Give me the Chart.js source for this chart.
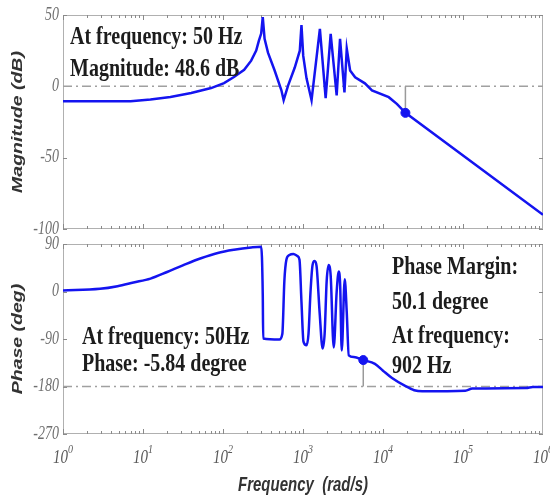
<!DOCTYPE html>
<html>
<head>
<meta charset="utf-8">
<title>Bode diagram</title>
<script src="https://cdn.jsdelivr.net/npm/chart.js@4.4.1/dist/chart.umd.min.js"></script>
<style>
  html, body { margin: 0; padding: 0; background: #fff; }
  #wrap { position: relative; width: 550px; height: 497px; }
  #wrap canvas { position: absolute; left: 0; top: 0; }
</style>
</head>
<body>
<div id="wrap">
  <canvas id="magChart" width="550" height="497"></canvas>
  <canvas id="phaseChart" width="550" height="497"></canvas>
</div>
<script>
// frequency axis (rad/s) and tick labels
const freqDecades = [1, 10, 100, 1000, 10000, 100000, 1000000];
const decadeExponents = ['0', '1', '2', '3', '4', '5', '6'];
const magTicks = [50, 0, -50, -100];
const phaseTicks = [90, 0, -90, -180, -270];

// magnitude response
const magFreq = [1, 7, 12.4, 22, 40, 71, 103, 137, 184, 225,
  260, 281, 300, 314, 331, 365, 442, 537, 573, 652,
  789, 912, 957, 1006, 1107, 1279, 1626, 1919, 2218, 2635,
  2904, 3298, 3524, 3880, 4484, 5939, 7278, 11800, 15000, 19060,
  1000000];
const magDb = [-10.5, -10.4, -9.2, -7.4, -4.7, -1.2, 2.3, 6.5, 11.6, 18,
  25, 32, 37, 48.6, 33.3, 23.6, 11.1, -2.8, -9.7, 0.7,
  13.2, 25, 43, 21.5, 5.6, -9.7, 40.3, -8.3, 36.8, -6.3,
  33.3, -4.2, 26.4, 11.1, 6.3, 2.1, -2.8, -7.6, -12.5, -18.6,
  -90];

// phase response
const phaseFreq = [1, 2.9, 4.8, 7.6, 12.4, 20, 32, 53, 86, 137,
  225, 300, 314, 318, 506, 552, 585, 620, 676, 759,
  853, 904, 957, 1014, 1107, 1172, 1242, 1316, 1395, 1478,
  1614, 1760, 1864, 1977, 2094, 2218, 2421, 2637, 2797, 2918,
  3048, 3325, 3524, 3734, 4315, 5667, 7925, 10000, 12970, 18920,
  24550, 30950, 107000, 131000, 614000, 748000, 1000000];
const phaseDeg = [2, 5, 10, 17, 24.5, 37, 50, 63, 73, 79,
  83.5, 85, -5.84, -89, -91, -80, 20, 60, 69, 71,
  67, 60, -20, -95, -102, -80, 0, 50, 58, 48,
  -40, -108, -80, 20, 50, 30, -106, 0, 38, 10,
  -112, 23, -40, -121, -124, -129.9, -137, -150, -164, -179,
  -187, -189, -188, -184, -183, -181, -181];

// margin markers
const gainMarkFreq = 19060;
const gainMarkDb = -18.6;
const phaseMarkFreq = 5667;
const phaseMarkDeg = -129.9;
const magRefDb = 0;
const phaseRefDeg = -180;

const magNotes = ['At frequency: 50 Hz', 'Magnitude: 48.6 dB'];
const phaseNotesLeft = ['At frequency: 50Hz', 'Phase: -5.84 degree'];
const phaseNotesRight = ['Phase Margin:', '50.1 degree', 'At frequency:', '902 Hz'];

const BLUE = '#1414f0';
const toPoints = (xs, ys) => xs.map((x, i) => ({ x: x, y: ys[i] }));
const fMin = freqDecades[0];
const fMax = freqDecades[freqDecades.length - 1];

// text drawn with a vertical stretch (the figure's fonts are tall)
function stretchText(ctx, text, x, y, font, align, color, sy, rotate) {
  ctx.save();
  ctx.translate(x, y);
  if (rotate) {
    ctx.rotate(-Math.PI / 2);
    ctx.scale(sy, 1);
  } else {
    ctx.scale(1, sy);
  }
  ctx.font = font;
  ctx.fillStyle = color;
  ctx.textAlign = align;
  ctx.textBaseline = 'middle';
  ctx.fillText(text, 0, 0);
  ctx.restore();
}

function drawFrame(chart, yTicks) {
  const { ctx, chartArea: a, scales: { x, y } } = chart;
  ctx.save();
  ctx.strokeStyle = '#b0b0b0';
  ctx.lineWidth = 1;
  ctx.strokeRect(a.left + 0.5, a.top + 0.5, a.right - a.left - 1, a.bottom - a.top - 1);

  // inward ticks: decades + minors on top and bottom, values on both sides
  ctx.strokeStyle = '#8a8a8a';
  ctx.beginPath();
  for (let i = 0; i < freqDecades.length - 1; i++) {
    for (let m = 1; m < 10; m++) {
      const px = Math.round(x.getPixelForValue(freqDecades[i] * m)) + 0.5;
      const len = m === 1 ? 5 : 3;
      ctx.moveTo(px, a.top); ctx.lineTo(px, a.top + len);
      ctx.moveTo(px, a.bottom); ctx.lineTo(px, a.bottom - len);
    }
  }
  yTicks.forEach(v => {
    const py = Math.round(y.getPixelForValue(v)) + 0.5;
    ctx.moveTo(a.left, py); ctx.lineTo(a.left + 4, py);
    ctx.moveTo(a.right, py); ctx.lineTo(a.right - 4, py);
  });
  ctx.stroke();
  ctx.restore();

  yTicks.forEach(v => {
    stretchText(ctx, String(v), a.left - 4, y.getPixelForValue(v),
      'italic 14px "Liberation Serif"', 'right', '#707070', 1.3);
  });
}

function drawFreqLabels(chart) {
  const { ctx, chartArea: a, scales: { x } } = chart;
  freqDecades.forEach((f, i) => {
    const px = x.getPixelForValue(f);
    ctx.save();
    ctx.font = 'italic 15px "Liberation Serif"';
    const wBase = ctx.measureText('10').width;
    ctx.font = 'italic 10px "Liberation Serif"';
    const wExp = ctx.measureText(decadeExponents[i]).width;
    ctx.restore();
    const left = px - (wBase + wExp) / 2;
    stretchText(ctx, '10', left, a.bottom + 24, 'italic 15px "Liberation Serif"', 'left', '#5a5a5a', 1.3);
    stretchText(ctx, decadeExponents[i], left + wBase, a.bottom + 16, 'italic 10px "Liberation Serif"', 'left', '#5a5a5a', 1.3);
  });
}

function drawNotes(ctx, lines, x, ys) {
  lines.forEach((t, i) => {
    stretchText(ctx, t, x, ys[i], 'bold 20px "Liberation Serif"', 'left', '#1c1c1c', 1.25);
  });
}

function baseOptions(padding, yMin, yMax) {
  return {
    responsive: false,
    animation: false,
    events: [],
    layout: { padding: padding },
    plugins: { legend: { display: false }, tooltip: { enabled: false } },
    scales: {
      x: { type: 'logarithmic', min: fMin, max: fMax, display: false },
      y: { type: 'linear', min: yMin, max: yMax, display: false }
    },
    elements: { point: { radius: 0 } }
  };
}

const refLine = { borderColor: '#a0a0a0', borderWidth: 1.5, borderDash: [9, 4, 2, 4], order: 3 };
const markLine = { borderColor: '#9a9a9a', borderWidth: 1.5, order: 2 };

// magnitude panel
new Chart(document.getElementById('magChart'), {
  type: 'line',
  data: {
    datasets: [
      { data: toPoints(magFreq, magDb), borderColor: BLUE, borderWidth: 2.5, tension: 0, order: 1 },
      Object.assign({ data: toPoints([fMin, fMax], [magRefDb, magRefDb]) }, refLine),
      Object.assign({ data: toPoints([gainMarkFreq, gainMarkFreq], [magRefDb, gainMarkDb]) }, markLine),
      { data: toPoints([gainMarkFreq], [gainMarkDb]), showLine: false, pointRadius: 4.5,
        pointBackgroundColor: BLUE, pointBorderColor: BLUE, order: 0 }
    ]
  },
  options: baseOptions({ left: 63, top: 15, right: 7, bottom: 268 }, magTicks[3], magTicks[0]),
  plugins: [{
    id: 'magDecor',
    beforeDatasetsDraw(chart) { drawFrame(chart, magTicks); },
    afterDraw(chart) {
      const { ctx, chartArea: a } = chart;
      drawNotes(ctx, magNotes, 70, [38, 70]);
      stretchText(ctx, 'Magnitude (dB)', 18, (a.top + a.bottom) / 2,
        'bold italic 15px "Liberation Sans"', 'center', '#333', 1.3, true);
    }
  }]
});

// phase panel
new Chart(document.getElementById('phaseChart'), {
  type: 'line',
  data: {
    datasets: [
      { data: toPoints(phaseFreq, phaseDeg), borderColor: BLUE, borderWidth: 2.5,
        cubicInterpolationMode: 'monotone', order: 1 },
      Object.assign({ data: toPoints([fMin, fMax], [phaseRefDeg, phaseRefDeg]) }, refLine),
      Object.assign({ data: toPoints([phaseMarkFreq, phaseMarkFreq], [phaseRefDeg, phaseMarkDeg]) }, markLine),
      { data: toPoints([phaseMarkFreq], [phaseMarkDeg]), showLine: false, pointRadius: 4.5,
        pointBackgroundColor: BLUE, pointBorderColor: BLUE, order: 0 }
    ]
  },
  options: baseOptions({ left: 63, top: 244, right: 7, bottom: 63 }, phaseTicks[4], phaseTicks[0]),
  plugins: [{
    id: 'phaseDecor',
    beforeDatasetsDraw(chart) { drawFrame(chart, phaseTicks); },
    afterDraw(chart) {
      const { ctx, chartArea: a } = chart;
      drawFreqLabels(chart);
      drawNotes(ctx, phaseNotesLeft, 82, [338, 365]);
      drawNotes(ctx, phaseNotesRight, 392, [268, 303, 337, 367]);
      stretchText(ctx, 'Phase (deg)', 18, (a.top + a.bottom) / 2,
        'bold italic 15px "Liberation Sans"', 'center', '#333', 1.3, true);
      stretchText(ctx, 'Frequency  (rad/s)', (a.left + a.right) / 2, 486,
        'bold italic 15px "Liberation Sans"', 'center', '#333', 1.3);
    }
  }]
});
</script>
</body>
</html>
